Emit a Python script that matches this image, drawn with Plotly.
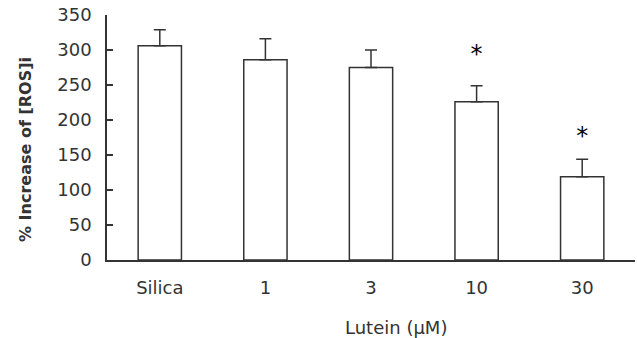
import plotly.graph_objects as go

categories = ["Silica", "1", "3", "10", "30"]
values = [306, 286, 275, 226, 119]
errors = [23, 30, 25, 23, 25]
sig_categories = ["10", "30"]
sig_y = [291, 174]
y_ticks = [0, 50, 100, 150, 200, 250, 300, 350]

FONT = "DejaVu Sans"
DARK = "#333333"

W, H = 637, 338
L, R, T, B = 107, 2, 15, 78
pw = W - L - R
ph = H - T - B
plot_bottom = H - B  # pixel of y=0

fig = go.Figure()
fig.add_trace(go.Bar(
    x=categories, y=values,
    marker=dict(color="white", line=dict(color=DARK, width=1.5)),
    error_y=dict(type="data", array=errors, symmetric=False,
                 arrayminus=[0] * len(errors), color=DARK, thickness=1.5, width=6),
    showlegend=False,
))
fig.add_trace(go.Scatter(
    x=sig_categories, y=sig_y, mode="text", text=["*"] * len(sig_y),
    textfont=dict(family="DejaVu Sans", size=24, color="black"),
    textposition="middle center", showlegend=False, cliponaxis=False,
))

fig.update_layout(
    width=W, height=H,
    margin=dict(l=L, r=R, t=T, b=B, autoexpand=False),
    plot_bgcolor="white", paper_bgcolor="white",
    bargap=0.59,
    font=dict(family=FONT, size=18, color=DARK),
    xaxis=dict(showline=True, linecolor=DARK, linewidth=1.5, ticks="",
               tickfont=dict(size=18), showgrid=False, zeroline=False,
               automargin=False, ticklabelstandoff=11),
    yaxis=dict(range=[0, 350], tickvals=y_ticks, showline=True, linecolor=DARK,
               linewidth=1.5, ticks="inside", ticklen=6, tickcolor=DARK,
               tickwidth=1.5, tickfont=dict(size=18), showgrid=False, zeroline=False,
               ticklabelstandoff=10, automargin=False),
    annotations=[
        dict(text="Lutein (μM)", xref="paper", yref="paper",
             x=(396 - L) / pw, y=(plot_bottom - 327) / ph,
             xanchor="center", yanchor="middle",
             showarrow=False, font=dict(size=18, color=DARK)),
        dict(text="<b>% Increase of [ROS]i</b>", textangle=-90, showarrow=False,
             xref="paper", yref="paper",
             x=(25 - L) / pw, y=(plot_bottom - 150) / ph,
             xanchor="center", yanchor="middle",
             font=dict(size=16, color=DARK)),
    ],
)
fig.write_html("out.html", config={"displayModeBar": False},
               post_script="document.body.style.margin='0';document.body.style.overflow='hidden';")
